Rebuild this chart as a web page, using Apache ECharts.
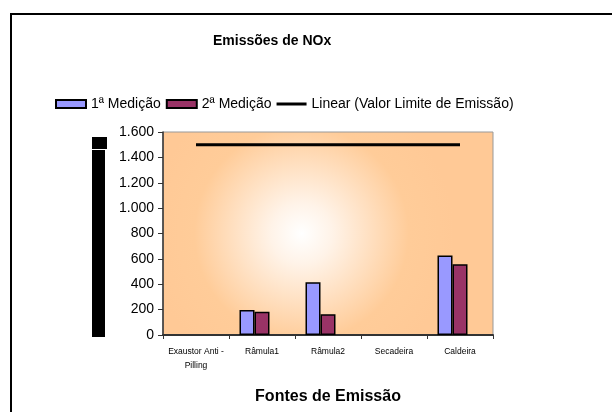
<!DOCTYPE html>
<html>
<head>
<meta charset="utf-8">
<script src="https://cdn.jsdelivr.net/npm/echarts@6/dist/echarts.min.js"></script>
<style>html,body{margin:0;padding:0;background:#fff;}#c{width:612px;height:412px;}</style>
</head>
<body>
<div id="c"></div>
<script>
var categories = ['Exaustor Anti-Pilling', 'Râmula1', 'Râmula2', 'Secadeira', 'Caldeira'];
var medicao1 = [null, 198, 416, null, 627];
var medicao2 = [null, 184, 164, null, 558];
var valorLimite = [1500, 1500, 1500, 1500, 1500];
var yTicks = [0, 200, 400, 600, 800, 1000, 1200, 1400, 1600];

var F = 'Liberation Sans, Arial, sans-serif';
var chart = echarts.init(document.getElementById('c'));
chart.setOption({
  animation: false,
  backgroundColor: '#fff',
  title: {
    text: 'Emissões de NOx',
    left: 208, top: 29,
    textStyle: { fontFamily: F, fontSize: 14, fontWeight: 'bold', color: '#000' }
  },
  legend: {
    left: 50, top: 92,
    itemWidth: 30, itemHeight: 8, itemGap: 5,
    textStyle: { fontFamily: F, fontSize: 14, color: '#000' },
    data: [
      { name: '1ª Medição', icon: 'rect' },
      { name: '2ª Medição', icon: 'rect' },
      { name: 'Linear (Valor Limite de Emissão)', icon: 'path://M0,0 M30,8 M0,2.5 L30,2.5 L30,5.5 L0,5.5 Z', itemStyle: { color: '#000' } }
    ]
  },
  grid: {
    left: 163, right: 119, top: 132, bottom: 77,
    show: true, borderColor: '#999', borderWidth: 1,
    backgroundColor: {
      type: 'radial', x: 0.42, y: 0.5, r: 0.75,
      colorStops: [
        { offset: 0, color: '#FFFFFF' },
        { offset: 0.2, color: '#FFF3E8' },
        { offset: 0.7, color: '#FFCC99' },
        { offset: 1, color: '#FFC996' }
      ]
    }
  },
  xAxis: {
    type: 'category',
    data: categories,
    name: 'Fontes de Emissão',
    nameLocation: 'middle',
    nameGap: 54,
    nameTextStyle: { fontFamily: F, fontSize: 16, fontWeight: 'bold', color: '#000' },
    axisLine: { lineStyle: { color: '#333', width: 2 } },
    axisTick: { show: true, length: 4, lineStyle: { color: '#333' } },
    axisLabel: {
      interval: 0,
      fontFamily: F, fontSize: 8.5, color: '#000', margin: 10, lineHeight: 14,
      formatter: function (v) { return v.replace('Anti-', 'Anti -\n'); }
    }
  },
  yAxis: {
    type: 'value',
    min: 0, max: 1600, interval: 200,
    axisLine: { show: true, lineStyle: { color: '#333', width: 1.5 } },
    axisTick: { show: true, length: 5, lineStyle: { color: '#333' } },
    splitLine: { show: false },
    axisLabel: {
      fontFamily: F, fontSize: 14, color: '#000', margin: 9,
      formatter: function (v) { return v >= 1000 ? Math.floor(v / 1000) + '.' + String(v % 1000).padStart(3, '0') : String(v); }
    }
  },
  series: [
    {
      name: '1ª Medição', type: 'bar', data: medicao1,
      barWidth: 15, barGap: '0%',
      itemStyle: { color: '#9999FF', borderColor: '#000', borderWidth: 1.5 }
    },
    {
      name: '2ª Medição', type: 'bar', data: medicao2,
      barWidth: 15, barGap: '0%',
      itemStyle: { color: '#993366', borderColor: '#000', borderWidth: 1.5 }
    },
    {
      name: 'Valor Limite de Emissão', type: 'bar', data: [null, null, null, null, null],
      barWidth: 15, barGap: '0%', silent: true,
      itemStyle: { color: 'transparent' }
    },
    {
      name: 'Linear (Valor Limite de Emissão)', type: 'line', data: valorLimite,
      symbol: 'none', z: 5,
      lineStyle: { color: '#000', width: 3 },
      itemStyle: { color: '#000' }
    }
  ],
  graphic: [
    { type: 'rect', shape: { x: 11, y: 14, width: 700, height: 500 }, style: { fill: 'none', stroke: '#000', lineWidth: 2 }, silent: true },
    { type: 'rect', shape: { x: 92, y: 137, width: 15, height: 12 }, style: { fill: '#000' }, silent: true },
    { type: 'rect', shape: { x: 92, y: 150, width: 13, height: 187 }, style: { fill: '#000' }, silent: true }
  ]
});
</script>
</body>
</html>
